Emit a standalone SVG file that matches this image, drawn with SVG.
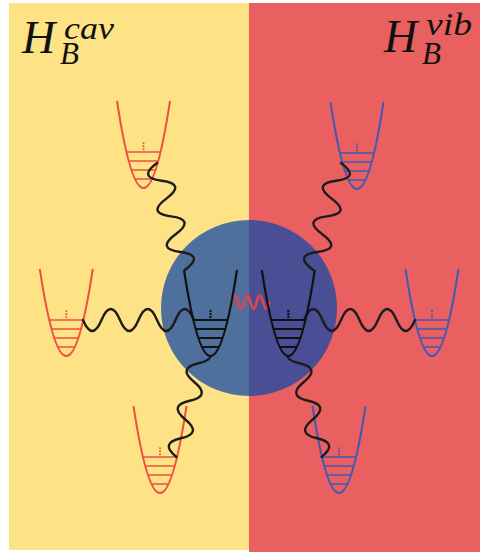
<svg xmlns="http://www.w3.org/2000/svg" xmlns:xlink="http://www.w3.org/1999/xlink" width="480" height="552" viewBox="0 0 480 552">
  <style>
    .bath-cav { fill: #FDE385; }
    .bath-vib { fill: #EA5F5F; }
    .label { font-family: "Liberation Serif", "DejaVu Serif", serif; font-style: italic; fill: #111; }
    .big { font-size: 46px; }
    .small { font-size: 31px; }
    .well-red { color: #EE4E44; }
    .well-blue { color: #4158B4; }
    .well-black { color: #111; }
    .wave { fill: none; stroke: #1c1c1c; stroke-width: 2.4; stroke-linecap: round; stroke-linejoin: round; }
    .coupling { fill: none; stroke: #DA4650; stroke-width: 2.8; stroke-linecap: round; }
  </style>
  <defs>
    <!-- harmonic well: origin at the bottom of the parabola -->
    <g id="well" fill="none" stroke="currentColor">
      <path d="M-26.5,-87 Q0,87 26.5,-87" stroke-width="2"/>
      <path d="M-17.05,-36 H17.05 M-14.76,-27 H14.76 M-12.05,-18 H12.05 M-8.52,-9 H8.52" stroke-width="1.6"/>
      <g fill="currentColor" stroke="none">
        <circle cx="0" cy="-38.8" r="1"/>
        <circle cx="0" cy="-41.8" r="1"/>
        <circle cx="0" cy="-44.8" r="1"/>
      </g>
    </g>
    <g id="well-bold" fill="none" stroke="currentColor">
      <path d="M-26.5,-86 Q0,86 26.5,-86" stroke-width="2.2"/>
      <path d="M-17.05,-36 H17.05 M-14.76,-27 H14.76 M-12.05,-18 H12.05 M-8.52,-9 H8.52" stroke-width="2.2"/>
      <g fill="currentColor" stroke="none">
        <circle cx="0" cy="-39" r="1.2"/>
        <circle cx="0" cy="-42" r="1.2"/>
        <circle cx="0" cy="-45" r="1.2"/>
      </g>
    </g>
  </defs>

  <!-- the two baths -->
  <rect class="bath-cav" x="9" y="3" width="240" height="547"/>
  <rect class="bath-vib" x="249" y="3" width="231" height="549"/>

  <!-- bath labels -->
  <g id="label-cav">
    <text class="label"><tspan class="big" x="22" y="52.5">H</tspan><tspan class="small" x="64" y="39" textLength="50" lengthAdjust="spacingAndGlyphs">cav</tspan><tspan class="small" x="60" y="63.5">B</tspan></text>
  </g>
  <g id="label-vib">
    <text class="label"><tspan class="big" x="384" y="51.5">H</tspan><tspan class="small" x="426" y="35" textLength="46" lengthAdjust="spacingAndGlyphs">vib</tspan><tspan class="small" x="422" y="63.5">B</tspan></text>
  </g>

  <!-- system -->
  <g id="system">
    <circle cx="249" cy="308" r="88" fill="#1448A5" fill-opacity="0.75"/>
  </g>

  <!-- bath modes -->
  <g id="cav-mode-1" class="well-red"><use xlink:href="#well" x="143.5" y="188"/></g>
  <g id="cav-mode-2" class="well-red"><use xlink:href="#well" x="66.3" y="356"/></g>
  <g id="cav-mode-3" class="well-red"><use xlink:href="#well" x="160" y="493"/></g>
  <g id="vib-mode-1" class="well-blue"><use xlink:href="#well" x="357" y="189"/></g>
  <g id="vib-mode-2" class="well-blue"><use xlink:href="#well" x="432" y="356"/></g>
  <g id="vib-mode-3" class="well-blue"><use xlink:href="#well" x="339" y="493"/></g>

  <!-- connectors -->
  <g id="connectors">
    <g id="cav-couplings">
      <path class="wave" d="M83,320 q9.25,22 18.5,0 t18.5,0 t18.5,0 t18.5,0 t18.5,0 t18.5,0"/>
      <path class="wave" transform="translate(157,163) rotate(75.3)" d="M0,0 q9.2,23 18.4,0 t18.4,0 t18.4,0 t18.4,0 t18.4,0 t18.4,0"/>
      <path class="wave" transform="translate(200.8,353.9) rotate(103.3)" d="M0,-10 Q4.815,-10 9.63,0 Q19.26,20 28.89,0 T48.15,0 T67.41,0 T86.67,0 T105.93,0"/>
    </g>
    <g id="vib-couplings" transform="translate(498,0) scale(-1,1)">
      <path class="wave" d="M83,320 q9.25,22 18.5,0 t18.5,0 t18.5,0 t18.5,0 t18.5,0 t18.5,0"/>
      <path class="wave" transform="translate(157,163) rotate(75.3)" d="M0,0 q9.2,23 18.4,0 t18.4,0 t18.4,0 t18.4,0 t18.4,0 t18.4,0"/>
      <path class="wave" transform="translate(200.8,353.9) rotate(103.3)" d="M0,-10 Q4.815,-10 9.63,0 Q19.26,20 28.89,0 T48.15,0 T67.41,0 T86.67,0 T105.93,0"/>
    </g>
    <path id="cav-vib-coupling" class="coupling" d="M231.5,302 q3.15,-13 6.3,0 t6.3,0 t6.3,0 t6.3,0 t6.3,0 t6.3,0"/>
  </g>

  <!-- system modes -->
  <g id="cav-mode-sys" class="well-black"><use xlink:href="#well-bold" x="210.5" y="356"/></g>
  <g id="vib-mode-sys" class="well-black"><use xlink:href="#well-bold" x="288.3" y="356"/></g>
</svg>
